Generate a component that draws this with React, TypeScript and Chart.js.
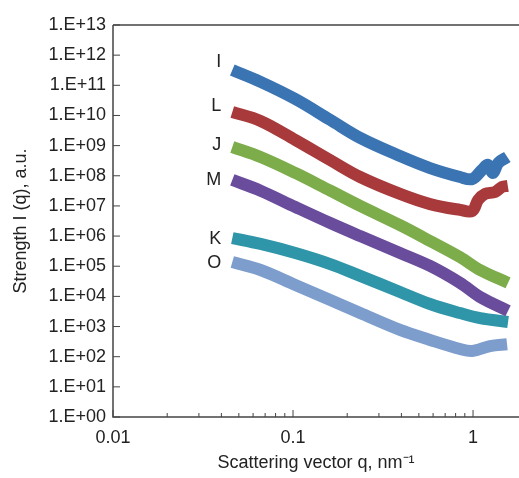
import React, { useEffect, useRef } from 'react';
import { Chart, registerables } from 'chart.js';

Chart.register(...registerables);

// ---- data ----
const seriesNames = ['I', 'L', 'J', 'M', 'K', 'O'];

const qI = [0.046, 0.066, 0.103, 0.161, 0.236, 0.393, 0.577, 0.847, 0.99, 1.12, 1.21, 1.29, 1.38, 1.55];
const valI = [3.2e11, 1.3e11, 3.5e10, 7.1e9, 1.8e9, 4.5e8, 1.8e8, 9.1e7, 7.8e7, 1.56e8, 2.3e8, 1.24e8, 2.66e8, 4.2e8];

const qL = [0.046, 0.066, 0.103, 0.161, 0.236, 0.393, 0.577, 0.847, 0.99, 1.066, 1.166, 1.325, 1.45, 1.56];
const valL = [1.3e10, 6.6e9, 1.54e9, 3.3e8, 9.1e7, 2.5e7, 1.15e7, 7.4e6, 6.8e6, 1.57e7, 2.5e7, 2.9e7, 4.3e7, 4.6e7];

const qJ = [0.046, 0.066, 0.103, 0.161, 0.236, 0.393, 0.577, 0.847, 1.094, 1.565];
const valJ = [9.0e8, 4.2e8, 1.24e8, 3.2e7, 1.0e7, 2.3e6, 6.9e5, 2.0e5, 7.5e4, 2.8e4];

const qM = [0.046, 0.066, 0.103, 0.161, 0.236, 0.393, 0.577, 0.847, 1.094, 1.565];
const valM = [7.3e7, 3.2e7, 9.2e6, 2.7e6, 1.0e6, 2.75e5, 1.02e5, 2.8e4, 9.5e3, 3.3e3];

const qK = [0.046, 0.066, 0.103, 0.161, 0.236, 0.393, 0.577, 0.847, 1.094, 1.565];
const valK = [8.6e5, 5.5e5, 2.75e5, 1.18e5, 4.8e4, 1.4e4, 5.6e3, 2.8e3, 1.9e3, 1.42e3];

const qO = [0.046, 0.066, 0.103, 0.161, 0.236, 0.393, 0.577, 0.847, 0.99, 1.243, 1.545];
const valO = [1.38e5, 7.5e4, 2.4e4, 7.6e3, 2.8e3, 7.7e2, 3.6e2, 1.8e2, 1.55e2, 2.26e2, 2.6e2];

const xTickValues = [
  0.01, 0.02, 0.03, 0.04, 0.05, 0.06, 0.07, 0.08, 0.09,
  0.1, 0.2, 0.3, 0.4, 0.5, 0.6, 0.7, 0.8, 0.9, 1,
];
const xLabelTexts: Record<string, string> = { '0.01': '0.01', '0.1': '0.1', '1': '1' };
const yExponents = [0, 1, 2, 3, 4, 5, 6, 7, 8, 9, 10, 11, 12, 13];

// ---- styles ----
const colors = ['#3b74b3', '#a83a3c', '#7dac4a', '#6a4c9c', '#2f95a8', '#7d9dcc'];
const labelDy = [-8, -6, -2, 0, 1, 1];
const FONT = "'Liberation Sans', Arial, Helvetica, sans-serif";
const TEXT = '#222';
const AXIS = '#444';

const seriesQ = [qI, qL, qJ, qM, qK, qO];
const seriesV = [valI, valL, valJ, valM, valK, valO];

const isPow10 = (v: number) => Math.abs(Math.log10(v) - Math.round(Math.log10(v))) < 1e-9;

const framePlugin = {
  id: 'frameTicks',
  afterDatasetsDraw(chart: any) {
    const { ctx, chartArea, scales } = chart;
    const { left, right, top, bottom } = chartArea;
    const x = scales.x;
    const y = scales.y;
    ctx.save();
    ctx.strokeStyle = AXIS;
    ctx.lineWidth = 1.5;
    ctx.beginPath();
    ctx.moveTo(left, top);
    ctx.lineTo(right, top);
    ctx.moveTo(left, top);
    ctx.lineTo(left, bottom);
    ctx.lineTo(right, bottom);
    ctx.stroke();

    ctx.lineWidth = 1;
    ctx.beginPath();
    x.ticks.forEach((t: any) => {
      const px = x.getPixelForValue(t.value);
      const len = isPow10(t.value) ? 7 : 4;
      ctx.moveTo(px, bottom);
      ctx.lineTo(px, bottom - len);
    });
    y.ticks.forEach((t: any) => {
      const py = y.getPixelForValue(t.value);
      ctx.moveTo(left, py);
      ctx.lineTo(left + 7, py);
    });
    ctx.stroke();

    // series letters next to the start of each curve
    ctx.fillStyle = TEXT;
    ctx.font = `18px ${FONT}`;
    ctx.textAlign = 'right';
    ctx.textBaseline = 'middle';
    chart.data.datasets.forEach((ds: any, i: number) => {
      const meta = chart.getDatasetMeta(i);
      const p = meta.data[0];
      if (!p) return;
      ctx.fillText(ds.label, p.x - 11, p.y + labelDy[i]);
    });
    ctx.restore();
  },
};

export default function App() {
  const ref = useRef<HTMLCanvasElement | null>(null);

  useEffect(() => {
    if (!ref.current) return;
    const datasets = seriesNames.map((name, i) => ({
      label: name,
      data: seriesQ[i].map((q, j) => ({ x: q, y: seriesV[i][j] })),
      borderColor: colors[i],
      backgroundColor: colors[i],
      borderWidth: 12,
      pointRadius: 0,
      fill: false,
      tension: 0.35,
      borderCapStyle: 'butt' as const,
      borderJoinStyle: 'round' as const,
    }));

    const chart = new Chart(ref.current, {
      type: 'line',
      data: { datasets },
      plugins: [framePlugin],
      options: {
        animation: false,
        responsive: false,
        devicePixelRatio: 1,
        layout: { padding: { top: 25, right: 0, bottom: 0, left: 0 } },
        plugins: {
          legend: { display: false },
          tooltip: { enabled: false },
        },
        scales: {
          x: {
            type: 'logarithmic',
            min: 0.01,
            max: 1.8,
            grid: { display: false, drawTicks: false },
            border: { display: false },
            afterBuildTicks: (scale: any) => {
              scale.ticks = xTickValues.map((v) => ({ value: v }));
            },
            afterFit: (scale: any) => {
              scale.height = 61;
            },
            ticks: {
              autoSkip: false,
              maxRotation: 0,
              padding: 10,
              color: TEXT,
              font: { size: 18, family: FONT },
              callback: (value: any) => {
                const key = String(Number(value));
                return xLabelTexts[key] ?? '';
              },
            },
            title: {
              display: true,
              text: 'Scattering vector q, nm⁻¹',
              color: TEXT,
              font: { size: 18, family: FONT },
              padding: { top: 0, bottom: 4 },
            },
          },
          y: {
            type: 'logarithmic',
            min: 1,
            max: 1e13,
            grid: { display: false, drawTicks: false },
            border: { display: false },
            afterBuildTicks: (scale: any) => {
              scale.ticks = yExponents.map((e) => ({ value: Math.pow(10, e) }));
            },
            afterFit: (scale: any) => {
              scale.width = 113;
            },
            ticks: {
              autoSkip: false,
              padding: 7,
              color: TEXT,
              font: { size: 18, family: FONT },
              callback: (value: any) => {
                const e = Math.round(Math.log10(Number(value)));
                return '1.E+' + String(e).padStart(2, '0');
              },
            },
            title: {
              display: true,
              text: 'Strength I (q), a.u.',
              color: TEXT,
              font: { size: 18, family: FONT },
              padding: { top: 10, bottom: 0 },
            },
          },
        },
      },
    });
    return () => chart.destroy();
  }, []);

  return (
    <div style={{ position: 'absolute', left: 0, top: 0, width: 519, height: 478 }}>
      <canvas ref={ref} width={519} height={478} style={{ display: 'block' }} />
    </div>
  );
}
